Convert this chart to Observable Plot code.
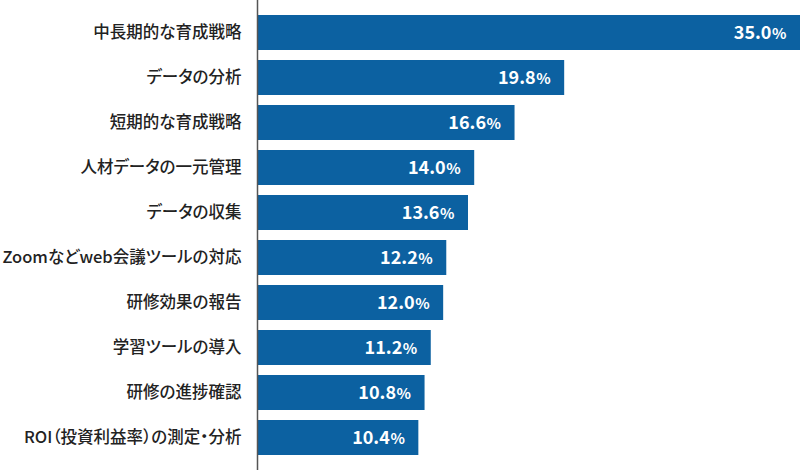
<!DOCTYPE html>
<html>
<head>
<meta charset="utf-8">
<script src="https://cdn.jsdelivr.net/npm/d3@7"></script>
<script src="https://cdn.jsdelivr.net/npm/@observablehq/plot@0.6"></script>
<style>
  html, body { margin: 0; padding: 0; background: #fff; }
  #chart svg { display: block; }
  #chart svg text { font-feature-settings: "palt"; }
</style>
</head>
<body>
<div id="chart"></div>
<script>
const categories = [
  "中長期的な育成戦略",
  "データの分析",
  "短期的な育成戦略",
  "人材データの一元管理",
  "データの収集",
  "Zoomなどweb会議ツールの対応",
  "研修効果の報告",
  "学習ツールの導入",
  "研修の進捗確認",
  "ROI（投資利益率）の測定・分析"
];
const values = [35.0, 19.8, 16.6, 14.0, 13.6, 12.2, 12.0, 11.2, 10.8, 10.4];

const data = categories.map((c, i) => ({category: c, value: values[i]}));
const font = "'Noto Sans CJK JP', 'Noto Sans', sans-serif";

const chart = Plot.plot({
  width: 800,
  height: 470,
  marginLeft: 257,
  marginRight: 0,
  marginTop: 0,
  marginBottom: 0,
  style: {fontFamily: font, background: "#fff"},
  x: {domain: [0, 35], axis: null},
  y: {domain: categories, paddingInner: 0.227, paddingOuter: 0.3, label: null},
  marks: [
    Plot.barX(data, {y: "category", x: "value", fill: "#0c61a1"}),
    Plot.ruleX([0], {stroke: "#555", strokeWidth: 1.5}),
    Plot.axisY({tickSize: 0, tickPadding: 16, fontSize: 16.5, fontWeight: 500, fill: "#222", label: null}),
    Plot.text(data, {y: "category", x: "value", text: d => d.value.toFixed(1), dx: -29, textAnchor: "end", fill: "#fff", fontSize: 18, fontWeight: "bold"}),
    Plot.text(data, {y: "category", x: "value", text: () => "%", dx: -14, dy: 1, textAnchor: "end", fill: "#fff", fontSize: 15, fontWeight: "bold"})
  ]
});
document.getElementById("chart").appendChild(chart);
</script>
</body>
</html>
